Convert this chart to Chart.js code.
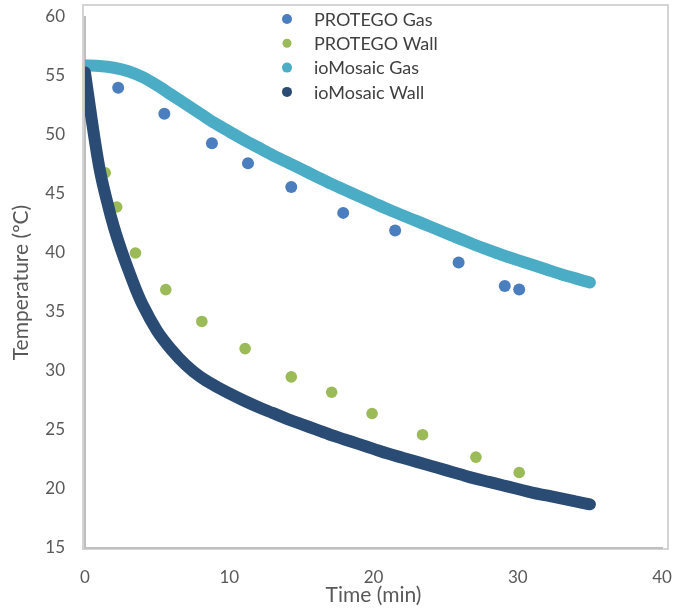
<!DOCTYPE html>
<html>
<head>
<meta charset="utf-8">
<script src="https://cdn.jsdelivr.net/npm/chart.js@4"></script>
<style>
  body { margin: 0; background: #fff; }
  #wrap { width: 678px; height: 608px; }
</style>
</head>
<body>
<div id="wrap"><canvas id="graph" width="678" height="608"></canvas></div>
<script>
// PROTEGO measured points
const protegoGasTime = [2.3, 5.5, 8.8, 11.3, 14.3, 17.9, 21.5, 25.9, 29.1, 30.1];
const protegoGasTemp = [54.0, 51.8, 49.3, 47.6, 45.6, 43.4, 41.9, 39.2, 37.2, 36.9];
const protegoWallTime = [1.4, 2.2, 3.5, 5.6, 8.1, 11.1, 14.3, 17.1, 19.9, 23.4, 27.1, 30.1];
const protegoWallTemp = [46.8, 43.9, 40.0, 36.9, 34.2, 31.9, 29.5, 28.2, 26.4, 24.6, 22.7, 21.4];

// ioMosaic model curves
const ioGasTime = [0, 1, 2, 3, 4, 5, 6, 7, 8, 9, 10, 11, 12, 13, 14, 15, 16, 17, 18, 19, 20, 21, 22, 23, 24, 25, 26, 27, 28, 29, 30, 31, 32, 33, 34, 35];
const ioGasTemp = [55.9, 55.85, 55.7, 55.4, 54.9, 54.2, 53.4, 52.6, 51.8, 51.0, 50.3, 49.6, 48.95, 48.3, 47.7, 47.1, 46.5, 45.9, 45.35, 44.8, 44.25, 43.7, 43.2, 42.7, 42.2, 41.7, 41.2, 40.7, 40.25, 39.8, 39.4, 39.0, 38.6, 38.2, 37.85, 37.5];
const ioWallTime = [0, 0.5, 1, 1.5, 2, 2.5, 3, 3.5, 4, 5, 6, 7, 8, 9, 10, 11, 12, 13, 14, 15, 16, 17, 18, 19, 20, 21, 22, 23, 24, 25, 26, 27, 28, 29, 30, 31, 32, 33, 34, 35];
const ioWallTemp = [55.3, 51.0, 47.2, 44.5, 42.2, 40.3, 38.6, 37.0, 35.6, 33.4, 31.8, 30.5, 29.5, 28.75, 28.1, 27.5, 26.95, 26.45, 25.95, 25.5, 25.05, 24.6, 24.2, 23.8, 23.4, 23.0, 22.65, 22.3, 21.95, 21.6, 21.25, 20.9, 20.6, 20.3, 20.0, 19.7, 19.45, 19.2, 18.95, 18.7];

const xTicks = [0, 10, 20, 30, 40];
const yTicks = [15, 20, 25, 30, 35, 40, 45, 50, 55, 60];

const seriesNames = ["PROTEGO Gas", "PROTEGO Wall", "ioMosaic Gas", "ioMosaic Wall"];
const seriesColors = ["#4a7ebf", "#9bbb59", "#4bacc6", "#2a4c74"];

const toPoints = (xs, ys) => xs.map((x, i) => ({ x: x, y: ys[i] }));

const frame = {
  id: "frame",
  beforeDraw(chart) {
    const c = chart.ctx;
    c.save();
    c.strokeStyle = "#d4d4d4";
    c.lineWidth = 2;
    c.strokeRect(83, 5, 585, 544);
    c.restore();
  },
  afterDraw(chart) {
    const c = chart.ctx;
    c.save();
    c.font = "18px Lato";
    c.textBaseline = "middle";
    seriesNames.forEach((name, i) => {
      const y = 19 + i * 24.3;
      c.fillStyle = seriesColors[i];
      c.beginPath();
      c.arc(287, y, i == 1 ? 4.5 : 5, 0, Math.PI * 2);
      c.fill();
      c.fillStyle = "#404040";
      c.fillText(name, 314, y + 1);
    });
    c.restore();
  },
};

const ctx = document.getElementById("graph").getContext("2d");
new Chart(ctx, {
  type: "scatter",
  data: {
    datasets: [
      {
        label: seriesNames[0],
        data: toPoints(protegoGasTime, protegoGasTemp),
        backgroundColor: seriesColors[0],
        borderWidth: 0,
        pointRadius: 6,
        order: 4,
      },
      {
        label: seriesNames[1],
        data: toPoints(protegoWallTime, protegoWallTemp),
        backgroundColor: seriesColors[1],
        borderWidth: 0,
        pointRadius: 5.8,
        order: 3,
      },
      {
        label: seriesNames[2],
        data: toPoints(ioGasTime, ioGasTemp),
        showLine: true,
        borderColor: seriesColors[2],
        borderWidth: 12,
        borderCapStyle: "round",
        cubicInterpolationMode: "monotone",
        pointRadius: 0,
        order: 2,
      },
      {
        label: seriesNames[3],
        data: toPoints(ioWallTime, ioWallTemp),
        showLine: true,
        borderColor: seriesColors[3],
        borderWidth: 12,
        borderCapStyle: "round",
        cubicInterpolationMode: "monotone",
        pointRadius: 0,
        order: 1,
      },
    ],
  },
  options: {
    responsive: false,
    animation: false,
    layout: { padding: { top: 17, right: 16, left: 0, bottom: 0 } },
    plugins: {
      legend: { display: false },
      tooltip: { enabled: false },
    },
    scales: {
      x: {
        type: "linear",
        min: 0,
        max: 40,
        afterFit: (scale) => {
          scale.height = 60;
          scale.paddingLeft = 0;
          scale.paddingRight = 0;
        },
        afterBuildTicks: (scale) => { scale.ticks = xTicks.map((v) => ({ value: v })); },
        grid: { display: false, drawTicks: false },
        border: { color: "#bfbfbf", width: 2 },
        ticks: { color: "#595959", font: { family: "Lato", size: 17 }, padding: 19 },
        title: {
          display: true,
          text: "Time (min)",
          color: "#595959",
          font: { family: "Lato", size: 21 },
          padding: { top: 0, bottom: 0 },
        },
      },
      y: {
        min: 15,
        max: 60,
        afterFit: (scale) => {
          scale.width = 85;
          scale.paddingTop = 0;
          scale.paddingBottom = 0;
        },
        afterBuildTicks: (scale) => { scale.ticks = yTicks.map((v) => ({ value: v })); },
        grid: { display: false, drawTicks: false },
        border: { color: "#bfbfbf", width: 2 },
        ticks: { color: "#595959", font: { family: "Lato", size: 17 }, padding: 20 },
        title: {
          display: true,
          text: "Temperature (ºC)",
          color: "#595959",
          font: { family: "Lato", size: 21 },
          padding: { top: 9, bottom: 0 },
        },
      },
    },
  },
  plugins: [frame],
});
</script>
</body>
</html>
